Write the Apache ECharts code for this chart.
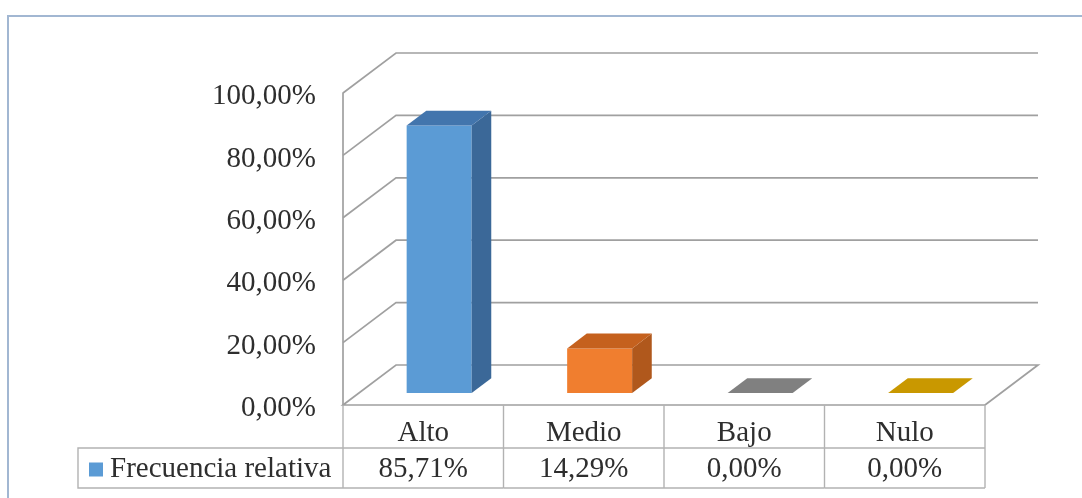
<!DOCTYPE html>
<html>
<head>
<meta charset="utf-8">
<title>Frecuencia relativa</title>
<script src="https://cdn.jsdelivr.net/npm/echarts@6/dist/echarts.min.js"></script>
<style>
  html, body { margin: 0; padding: 0; background: #ffffff; }
  #chart { width: 1082px; height: 498px; }
</style>
</head>
<body>
<div id="chart"></div>
<script>
// ---- data ----
const categories = ['Alto', 'Medio', 'Bajo', 'Nulo'];
const relFreq = [85.71, 14.29, 0, 0];
const yTicks = [0, 20, 40, 60, 80, 100];
const seriesName = 'Frecuencia relativa';

// ---- look ----
const FONT = 'Liberation Serif, Times New Roman, serif';
const TEXT = '#2e2e2e';
const GRID_LINE = '#a0a0a0';
const TABLE_LINE = '#b2b2b2';
// depth of the 3D floor (screen offset from front edge to back wall)
const DX = 53, DY = -40;
// bar placement inside the depth (fractions of DX/DY)
const BAR_FRONT = 0.3, BAR_BACK = 0.67, BAR_WIDTH = 0.405;
// front / side / top shades per category
const barShades = [
  { front: '#5b9bd5', side: '#3b6898', top: '#4275ad' },
  { front: '#f07e2f', side: '#b0581c', top: '#c5611e' },
  { front: '#a5a5a5', side: '#767676', top: '#808080' },
  { front: '#ffc000', side: '#b88a00', top: '#c99800' }
];

const pct = v => v.toFixed(2).replace('.', ',') + '%';

const chart = echarts.init(document.getElementById('chart'), null, { renderer: 'canvas' });

// back wall, side wall and floor lines, one per value tick
function renderWall(params, api) {
  const cs = params.coordSys;
  const L = cs.x, R = cs.x + cs.width;
  const y = api.coord([0, api.value(1)])[1];
  let pts;
  if (api.value(1) === 0) {
    pts = [[R, y], [L, y], [L + DX, y + DY], [R + DX, y + DY], [R, y]];
  } else {
    pts = [[L, y], [L + DX, y + DY], [R + DX, y + DY]];
  }
  return {
    type: 'polyline',
    shape: { points: pts },
    style: { stroke: GRID_LINE, lineWidth: 1.7, fill: null },
    silent: true
  };
}

// 3D column: front face, right side, top
function renderBar(params, api) {
  const i = api.value(0), v = api.value(1);
  const base = api.coord([i, 0]);
  const top = api.coord([i, v]);
  const bw = api.size([1, 0])[0] * BAR_WIDTH;
  const fx = DX * BAR_FRONT, fy = DY * BAR_FRONT;
  const ddx = DX * (BAR_BACK - BAR_FRONT), ddy = DY * (BAR_BACK - BAR_FRONT);
  const x0 = base[0] - bw / 2 + fx, x1 = x0 + bw;
  const yb = base[1] + fy, yt = top[1] + fy;
  const c = barShades[i];
  const children = [];
  if (yb - yt > 0.5) {
    children.push({
      type: 'rect', shape: { x: x0, y: yt, width: bw, height: yb - yt },
      style: { fill: c.front }
    });
    children.push({
      type: 'polygon',
      shape: { points: [[x1, yb], [x1, yt], [x1 + ddx, yt + ddy], [x1 + ddx, yb + ddy]] },
      style: { fill: c.side }
    });
  }
  children.push({
    type: 'polygon',
    shape: { points: [[x0, yt], [x1, yt], [x1 + ddx, yt + ddy], [x0 + ddx, yt + ddy]] },
    style: { fill: c.top }
  });
  return { type: 'group', children: children };
}

// data table below the floor: cell borders and the value row
function renderTable(params, api) {
  const i = api.value(0), v = api.value(1);
  const c = api.coord([i, 0]);
  const band = api.size([1, 0])[0];
  const left = c[0] - band / 2, right = c[0] + band / 2;
  const y0 = c[1], y1 = y0 + 43, y2 = y0 + 83;
  const ls = { stroke: TABLE_LINE, lineWidth: 1.4 };
  const children = [
    { type: 'line', shape: { x1: right, y1: y0, x2: right, y2: y2 }, style: ls },
    { type: 'line', shape: { x1: left, y1: y1, x2: right, y2: y1 }, style: ls },
    { type: 'line', shape: { x1: left, y1: y2, x2: right, y2: y2 }, style: ls },
    {
      type: 'text',
      style: {
        text: pct(v), x: c[0], y: (y1 + y2) / 2 + 1,
        align: 'center', verticalAlign: 'middle',
        fontFamily: FONT, fontSize: 29, fill: TEXT
      }
    }
  ];
  if (i === 0) {
    children.push({ type: 'line', shape: { x1: left, y1: y0, x2: left, y2: y2 }, style: ls });
  }
  return { type: 'group', children: children, silent: true };
}

const option = {
  backgroundColor: '#ffffff',
  animation: false,
  graphic: [
    {
      type: 'rect', z: -10, silent: true,
      shape: { x: 8, y: 16, width: 1090, height: 500 },
      style: { fill: '#ffffff', stroke: '#a2b7d2', lineWidth: 2 }
    },
    {
      type: 'polyline', z: 5, silent: true,
      shape: { points: [[343, 448], [78, 448], [78, 488], [343, 488]] },
      style: { stroke: TABLE_LINE, lineWidth: 1.4, fill: null }
    }
  ],
  legend: {
    data: [seriesName],
    left: 89, top: 455,
    icon: 'rect', itemWidth: 14, itemHeight: 14, itemGap: 6,
    padding: 0,
    textStyle: { fontFamily: FONT, fontSize: 29, color: TEXT, padding: [0, 0, 0, 2] },
    selectedMode: false
  },
  grid: { left: 343, right: 97, top: 93, bottom: 93, containLabel: false },
  xAxis: {
    type: 'category',
    data: categories,
    axisLine: { show: false },
    axisTick: { show: false },
    splitLine: { show: false },
    axisLabel: { margin: 14, fontFamily: FONT, fontSize: 29, color: TEXT }
  },
  yAxis: {
    type: 'value',
    min: 0, max: 100, interval: 20,
    axisLine: { show: true, lineStyle: { color: GRID_LINE, width: 1.7 } },
    axisTick: { show: false },
    splitLine: { show: false },
    axisLabel: {
      margin: 27,
      formatter: v => '{t|' + pct(v) + '}',
      rich: {
        t: { fontFamily: FONT, fontSize: 29, color: TEXT, padding: [7, 0, 0, 0] }
      }
    }
  },
  series: [
    {
      type: 'custom', name: 'wall', z: 1, silent: true,
      renderItem: renderWall,
      data: yTicks.map(v => [0, v]),
      encode: { x: 0, y: 1 }
    },
    {
      type: 'custom', name: seriesName, z: 3,
      itemStyle: { color: '#5b9bd5' },
      renderItem: renderBar,
      data: relFreq.map((v, i) => [i, v]),
      encode: { x: 0, y: 1 }
    },
    {
      type: 'custom', name: 'table', z: 4, silent: true,
      renderItem: renderTable,
      data: relFreq.map((v, i) => [i, v]),
      encode: { x: 0, y: 1 }
    }
  ]
};

chart.setOption(option);
</script>
</body>
</html>
